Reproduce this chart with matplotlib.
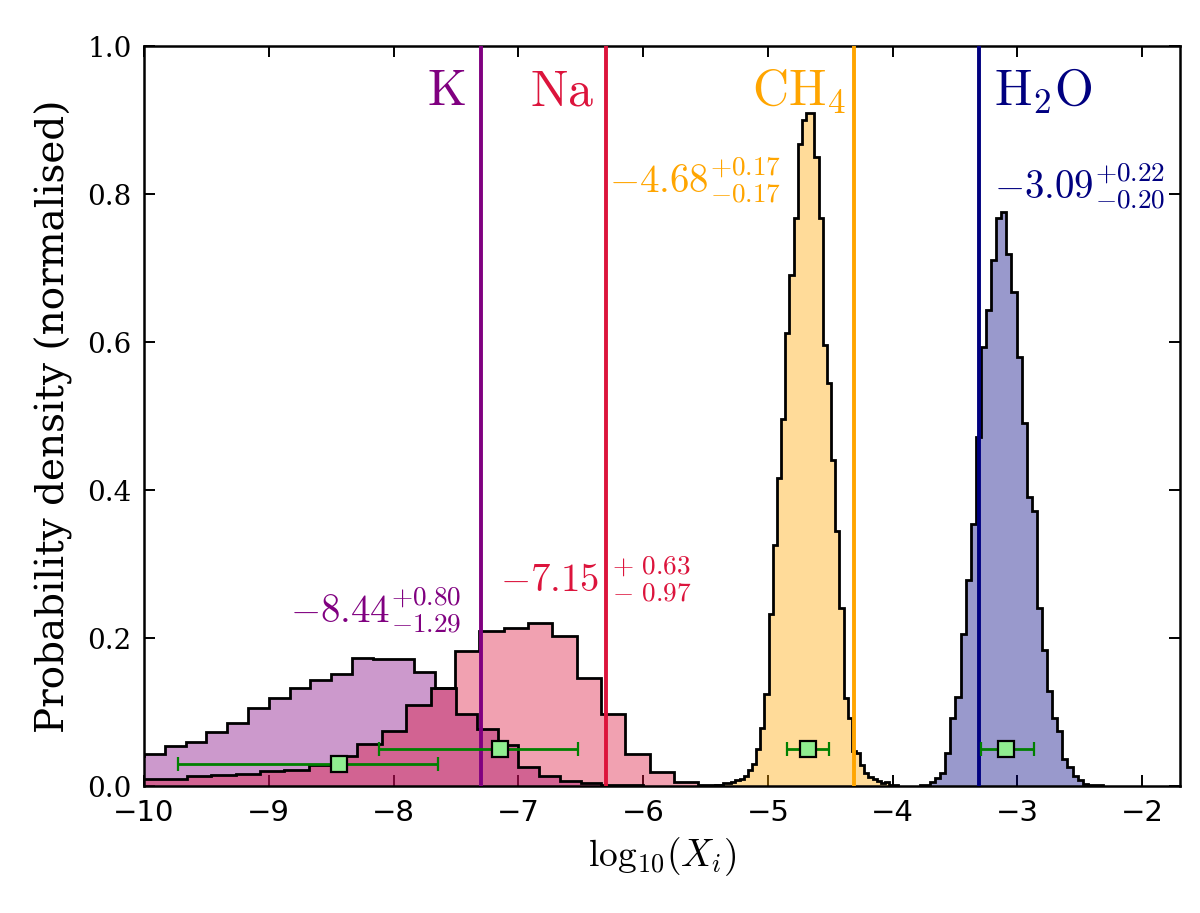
import numpy as np
import matplotlib
matplotlib.use("Agg")
import matplotlib.pyplot as plt
from matplotlib.colors import to_rgba

plt.rcParams['mathtext.fontset'] = 'cm'

# ---------------- data ----------------
species = ["K", "Na", "CH4", "H2O"]
labels = [r"$\mathrm{K}$", r"$\mathrm{Na}$", r"$\mathrm{CH_4}$", r"$\mathrm{H_2O}$"]
colors = ["purple", "crimson", "orange", "navy"]

# histogram bins (start, width) and normalised heights
k_start, k_width = -10.1667, 1/6
k_heights = [0.040, 0.044, 0.054, 0.059, 0.073, 0.085, 0.106, 0.119, 0.133, 0.144,
             0.152, 0.173, 0.172, 0.172, 0.154, 0.133, 0.098, 0.077, 0.055, 0.026,
             0.0135, 0.007, 0.004, 0.002, 0.001]

na_start, na_width = -10.046, 0.1952
na_heights = [0.010, 0.010, 0.014, 0.015, 0.017, 0.021, 0.022, 0.028, 0.040, 0.057,
              0.075, 0.110, 0.133, 0.182, 0.209, 0.213, 0.221, 0.203, 0.146, 0.098,
              0.044, 0.019, 0.006, 0.001]

ch4_start, ch4_width = -5.427, 1/30
ch4_heights = [0.001, 0.002, 0.004, 0.004, 0.006, 0.008, 0.010, 0.013, 0.022, 0.030,
               0.050, 0.078, 0.125, 0.232, 0.326, 0.416, 0.496, 0.612, 0.690, 0.767,
               0.868, 0.900, 0.910, 0.910, 0.850, 0.767, 0.596, 0.545, 0.440, 0.345,
               0.240, 0.119, 0.092, 0.047, 0.045, 0.028, 0.018, 0.012, 0.010, 0.007,
               0.004, 0.006, 0.002, 0.001]

h2o_start, h2o_width = -3.782, 0.0408
h2o_heights = [0.001, 0.002, 0.005, 0.011, 0.018, 0.045, 0.092, 0.121, 0.206, 0.279,
               0.354, 0.472, 0.593, 0.643, 0.711, 0.767, 0.776, 0.719, 0.667, 0.580,
               0.490, 0.390, 0.372, 0.240, 0.184, 0.129, 0.092, 0.074, 0.037, 0.026,
               0.013, 0.008, 0.003, 0.002, 0.001, 0.001]

# vertical reference lines
ref_values = [-7.30, -6.30, -4.31, -3.31]

# retrieved medians and uncertainties
medians = [-8.44, -7.15, -4.68, -3.09]
err_plus = [0.80, 0.63, 0.17, 0.22]
err_minus = [1.29, 0.97, 0.17, 0.20]
marker_y = [0.03, 0.05, 0.05, 0.05]

value_texts = [r"$-8.44^{+0.80}_{-1.29}$",
               r"$-7.15\ {}^{+\ 0.63}_{-\ 0.97}$",
               r"$-4.68^{+0.17}_{-0.17}$",
               r"$-3.09^{+0.22}_{-0.20}$"]

# ---------------- figure ----------------
fig = plt.figure(figsize=(12, 9.13), dpi=100)
ax = fig.add_axes([0.12, 0.139, 0.863, 0.8106])

hists = [(k_start, k_width, k_heights), (na_start, na_width, na_heights),
         (ch4_start, ch4_width, ch4_heights), (h2o_start, h2o_width, h2o_heights)]

for (start, width, heights), c in zip(hists, colors):
    edges = start + width * np.arange(len(heights) + 1)
    ax.stairs(heights, edges, fill=True, facecolor=to_rgba(c, 0.4),
              edgecolor='none', zorder=2)
    ax.stairs(heights, edges, fill=False, edgecolor='black', linewidth=2.0, zorder=3)

for v, c in zip(ref_values, colors):
    ax.axvline(v, color=c, linewidth=2.8, zorder=4)

for m, ep, em, y in zip(medians, err_plus, err_minus, marker_y):
    ax.errorbar([m], [y], xerr=[[em], [ep]], fmt='s', mfc='lightgreen', mec='black',
                mew=1.6, ms=12, ecolor='green', elinewidth=2, capsize=5,
                capthick=2, zorder=5)

# species labels
lab_pos = [(-7.42, 'right'), (-6.39, 'right'), (-4.372, 'right'), (-3.19, 'left')]
for (x, ha), lab, c in zip(lab_pos, labels, colors):
    ax.text(x, 0.920, lab, color=c, fontsize=36, ha=ha, va='baseline', zorder=6)

# value labels
val_pos = [(-7.452, 0.220, 'right'), (-7.15, 0.261, 'left'),
           (-4.895, 0.801, 'right'), (-3.19, 0.792, 'left')]
for (x, y, ha), t, c in zip(val_pos, value_texts, colors):
    ax.text(x, y, t, color=c, fontsize=28, ha=ha, va='baseline', zorder=6)

ax.set_xlim(-10, -1.7)
ax.set_ylim(0, 1.0)
ax.set_xticks(np.arange(-10, -1, 1))
ax.set_yticks(np.arange(0, 1.01, 0.2))
ax.tick_params(direction='in', top=True, right=True, length=8, width=1.4, pad=9)
for lbl in ax.get_xticklabels():
    lbl.set_fontfamily('DejaVu Sans')
    lbl.set_fontsize(21)
for lbl in ax.get_yticklabels():
    lbl.set_fontfamily('DejaVu Serif')
    lbl.set_fontsize(20)
for s in ax.spines.values():
    s.set_linewidth(1.8)

ax.set_xlabel(r"$\mathrm{log}_{10}(X_i)$", fontsize=27, labelpad=6)
ax.set_ylabel("Probability density (normalised)", fontsize=28,
              fontfamily='DejaVu Serif', labelpad=10)

fig.savefig("out.png", dpi=100)
